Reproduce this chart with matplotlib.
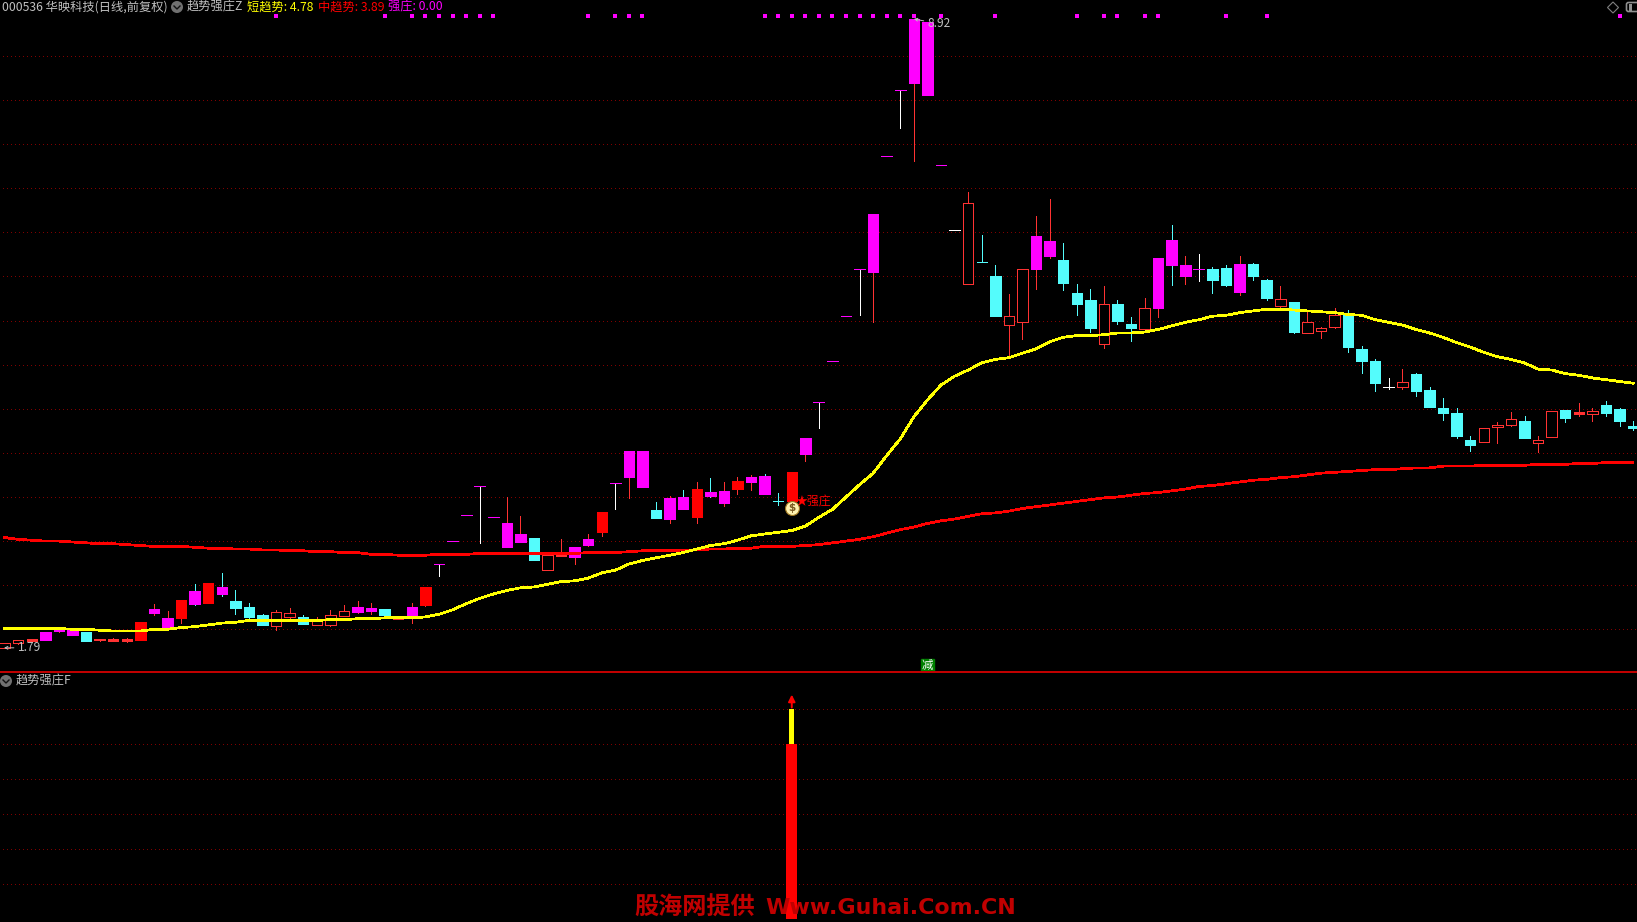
import matplotlib
matplotlib.use('Agg')
import numpy as np
import matplotlib.pyplot as plt
from matplotlib.patches import Circle, Polygon, FancyBboxPatch, Rectangle

plt.rcParams['font.family'] = ['Noto Sans CJK SC', 'DejaVu Sans']

#=================================== data ===================================
opens = [1.79, 1.84, 1.87, 1.88, 1.98, 1.94, 1.97, 1.88, 1.87, 1.87, 1.88, 2.19, 2.03, 2.13, 2.43, 2.30, 2.48, 2.32, 2.25, 2.16,
         2.04, 2.14, 2.14, 2.05, 2.05, 2.15, 2.20, 2.21, 2.23, 2.12, 2.13, 2.28, 2.74, 3.00, 3.30, 3.63, 3.27, 2.93, 2.99, 3.04,
         2.67, 2.83, 2.82, 2.96, 3.10, 3.66, 3.73, 3.61, 3.35, 3.25, 3.50, 3.27, 3.56, 3.43, 3.59, 3.67, 3.74, 3.46, 3.45, 3.99,
         4.58, 5.04, 5.55, 6.09, 6.05, 7.37, 8.11, 8.19, 8.06, 7.26, 6.53, 5.92, 6.17, 6.01, 5.45, 5.48, 6.09, 6.23, 6.19, 5.81,
         5.73, 5.24, 5.69, 5.46, 5.41, 5.64, 6.41, 6.01, 6.08, 6.09, 6.10, 5.82, 6.14, 5.96, 5.67, 5.71, 5.36, 5.38, 5.43, 5.56,
         5.18, 5.04, 4.75, 4.75, 4.89, 4.71, 4.51, 4.45, 4.15, 4.12, 4.29, 4.32, 4.36, 4.11, 4.18, 4.49, 4.44, 4.44, 4.54, 4.50,
         4.30]
highs = [1.84, 1.88, 1.89, 1.97, 2.00, 2.00, 1.97, 1.89, 1.90, 1.90, 2.08, 2.29, 2.21, 2.33, 2.51, 2.53, 2.64, 2.45, 2.30, 2.17,
         2.22, 2.24, 2.16, 2.14, 2.22, 2.28, 2.32, 2.30, 2.23, 2.14, 2.30, 2.48, 2.74, 3.00, 3.30, 3.63, 3.27, 3.50, 3.29, 3.04,
         2.88, 3.02, 2.93, 3.08, 3.33, 3.66, 4.02, 4.02, 3.44, 3.51, 3.58, 3.67, 3.72, 3.67, 3.73, 3.75, 3.76, 3.55, 3.78, 4.17,
         4.58, 5.04, 5.55, 6.09, 6.71, 7.37, 8.11, 8.92, 8.89, 7.26, 6.53, 6.96, 6.47, 6.13, 5.80, 6.09, 6.69, 6.88, 6.38, 5.92,
         5.86, 5.89, 5.73, 5.54, 5.76, 6.21, 6.58, 6.23, 6.26, 6.11, 6.13, 6.23, 6.15, 5.97, 5.89, 5.71, 5.61, 5.43, 5.64, 5.62,
         5.21, 5.06, 4.85, 4.95, 4.91, 4.75, 4.62, 4.51, 4.19, 4.28, 4.35, 4.46, 4.42, 4.19, 4.48, 4.49, 4.57, 4.51, 4.59, 4.51,
         4.36]
lows = [1.79, 1.83, 1.86, 1.88, 1.97, 1.94, 1.87, 1.87, 1.87, 1.86, 1.88, 2.16, 2.03, 2.07, 2.28, 2.30, 2.38, 2.17, 2.13, 2.05,
        1.99, 2.12, 2.06, 2.05, 2.04, 2.15, 2.19, 2.17, 2.13, 2.12, 2.07, 2.26, 2.60, 3.00, 3.30, 2.98, 3.27, 2.93, 2.99, 2.79,
        2.67, 2.83, 2.74, 2.94, 3.06, 3.36, 3.49, 3.61, 3.26, 3.21, 3.36, 3.21, 3.50, 3.40, 3.53, 3.58, 3.53, 3.41, 3.45, 3.91,
        4.28, 5.04, 5.55, 5.56, 5.48, 7.37, 7.68, 7.31, 8.06, 7.26, 6.53, 5.92, 6.16, 5.55, 5.08, 5.29, 5.86, 6.21, 5.85, 5.56,
        5.37, 5.19, 5.46, 5.27, 5.41, 5.54, 5.90, 5.92, 5.95, 5.81, 5.89, 5.79, 5.96, 5.73, 5.64, 5.36, 5.36, 5.30, 5.42, 5.14,
        4.91, 4.70, 4.73, 4.72, 4.65, 4.52, 4.37, 4.17, 4.02, 4.12, 4.11, 4.31, 4.17, 4.01, 4.18, 4.35, 4.42, 4.36, 4.42, 4.30,
        4.26]
closes = [1.84, 1.88, 1.89, 1.97, 2.00, 2.00, 1.87, 1.89, 1.89, 1.89, 2.08, 2.23, 2.13, 2.33, 2.29, 2.53, 2.40, 2.24, 2.14, 2.05,
          2.20, 2.19, 2.06, 2.11, 2.16, 2.21, 2.25, 2.24, 2.16, 2.14, 2.25, 2.48, 2.74, 3.00, 3.30, 3.63, 3.27, 3.21, 3.08, 2.79,
          2.84, 2.84, 2.93, 3.02, 3.33, 3.66, 4.02, 4.02, 3.26, 3.49, 3.36, 3.59, 3.51, 3.57, 3.68, 3.73, 3.53, 3.45, 3.78, 4.17,
          4.58, 5.04, 5.55, 6.09, 6.71, 7.37, 8.11, 8.92, 8.89, 7.26, 6.53, 6.83, 6.16, 5.55, 5.55, 6.09, 6.46, 6.40, 5.93, 5.69,
          5.42, 5.69, 5.50, 5.42, 5.64, 6.21, 6.13, 6.13, 6.08, 5.96, 5.90, 6.14, 6.01, 5.76, 5.74, 5.37, 5.48, 5.42, 5.56, 5.20,
          5.04, 4.79, 4.75, 4.80, 4.70, 4.52, 4.45, 4.19, 4.09, 4.28, 4.32, 4.38, 4.17, 4.15, 4.48, 4.40, 4.46, 4.47, 4.45, 4.36,
          4.28]

short_trend = [2.01, 2.01, 2.01, 2.01, 2.01, 2.00, 2.00, 1.99, 1.98, 1.98, 1.98, 2.00, 2.00, 2.02, 2.03, 2.05, 2.07, 2.08, 2.10, 2.10,
               2.10, 2.10, 2.10, 2.10, 2.11, 2.11, 2.12, 2.12, 2.13, 2.13, 2.13, 2.14, 2.17, 2.22, 2.29, 2.35, 2.40, 2.44, 2.47, 2.48,
               2.51, 2.54, 2.55, 2.58, 2.64, 2.67, 2.74, 2.78, 2.81, 2.84, 2.87, 2.91, 2.95, 2.97, 3.01, 3.06, 3.08, 3.10, 3.12, 3.17,
               3.27, 3.36, 3.50, 3.64, 3.77, 3.97, 4.16, 4.41, 4.60, 4.77, 4.87, 4.94, 5.02, 5.06, 5.08, 5.13, 5.18, 5.26, 5.31, 5.33,
               5.33, 5.34, 5.36, 5.36, 5.37, 5.40, 5.44, 5.48, 5.51, 5.55, 5.56, 5.59, 5.61, 5.63, 5.63, 5.62, 5.61, 5.60, 5.59, 5.57,
               5.56, 5.51, 5.48, 5.45, 5.40, 5.36, 5.31, 5.25, 5.20, 5.14, 5.09, 5.06, 5.02, 4.95, 4.94, 4.90, 4.88, 4.85, 4.83, 4.81,
               4.79]
mid_trend = [3.04, 3.02, 3.01, 3.00, 3.00, 2.99, 2.98, 2.97, 2.97, 2.96, 2.95, 2.94, 2.94, 2.94, 2.93, 2.92, 2.92, 2.91, 2.91, 2.90,
             2.90, 2.89, 2.89, 2.88, 2.88, 2.87, 2.87, 2.85, 2.85, 2.84, 2.84, 2.84, 2.85, 2.85, 2.85, 2.86, 2.86, 2.86, 2.86, 2.86,
             2.86, 2.86, 2.86, 2.87, 2.87, 2.87, 2.88, 2.89, 2.89, 2.89, 2.90, 2.90, 2.91, 2.91, 2.92, 2.92, 2.94, 2.94, 2.94, 2.95,
             2.96, 2.98, 3.00, 3.02, 3.05, 3.09, 3.13, 3.16, 3.20, 3.23, 3.25, 3.28, 3.31, 3.32, 3.34, 3.37, 3.39, 3.41, 3.43, 3.45,
             3.47, 3.49, 3.50, 3.52, 3.54, 3.55, 3.57, 3.59, 3.62, 3.63, 3.65, 3.67, 3.69, 3.70, 3.72, 3.73, 3.75, 3.77, 3.78, 3.79,
             3.80, 3.81, 3.81, 3.82, 3.83, 3.83, 3.85, 3.85, 3.85, 3.86, 3.86, 3.86, 3.86, 3.87, 3.87, 3.87, 3.88, 3.88, 3.89, 3.89,
             3.89]

# candles painted magenta / solid red by the indicator
strong_days = [3, 4, 5, 11, 12, 14, 16, 26, 27, 30, 32, 33, 34, 35, 36, 37, 38, 42, 43, 45, 46, 47, 49, 50, 52, 53, 55, 56, 59,
               60, 61, 62, 63, 64, 65, 66, 67, 68, 69, 76, 77, 85, 86, 87, 88, 91]
red_days = [10, 13, 15, 31, 44, 51, 54, 58]
top_dots = [20, 28, 30, 31, 32, 33, 34, 35, 36, 43, 45, 46, 47, 56, 57, 58, 59, 60, 61, 62, 63, 64, 65, 66, 67, 69, 73, 79, 81,
            82, 84, 85, 90, 93, 119]

signal_day = 58
sell_day = 68
sub_red = 5
sub_yellow = 6

price_grid = np.arange(2.0, 9.0, 0.5)
sub_grid = [1, 2, 3, 4, 5, 6]

#=================================== layout ==================================
W, H = 1637, 922
split = 672
grid_color = '#800000'
text_grey = '#c0c0c0'
up_red = '#ff3232'
cyan = '#54fcfc'
magenta = '#ff00ff'

fig = plt.figure(figsize=(W / 100, H / 100), dpi=100, facecolor='black')
ax = fig.add_axes([0, (H - split) / H, 1, split / H])
sub = fig.add_axes([0, 0, 1, (H - split) / H])
over = fig.add_axes([0, 0, 1, 1])
for a in (ax, sub, over):
    a.set_axis_off()
over.patch.set_alpha(0)
over.set_xlim(0, W)
over.set_ylim(H, 0)

xlim = (-4.7 / 13.57, (W - 4.7) / 13.57)
ax.set_xlim(*xlim)
ax.set_ylim(2 - (split - 629.3) / 88.2, 2 + 629.3 / 88.2)
sub.set_xlim(*xlim)
sub.set_ylim(-2.7 / 35, 6 + (709.3 - split) / 35)

for g in price_grid:
    ax.axhline(g, xmin=3 / W, color=grid_color, lw=0.72, ls=(0, (1, 3)), antialiased=False, zorder=1)
for g in sub_grid:
    sub.axhline(g, xmin=3 / W, color=grid_color, lw=0.72, ls=(0, (1, 3)), antialiased=False, zorder=1)

#=================================== candles =================================
for i in range(len(opens)):
    o, h, l, c = opens[i], highs[i], lows[i], closes[i]
    if c > o:
        wick = up_red
    elif c < o:
        wick = cyan
    else:
        wick = 'white'
    ax.vlines(i, l, h, color=wick, lw=0.72, antialiased=False, zorder=2)

    if c == o:
        dash = magenta if i in strong_days else wick
        ax.hlines(c, i - 0.4, i + 0.4, color=dash, lw=0.72, antialiased=False, zorder=3)
        continue
    if i in strong_days:
        face, edge = magenta, magenta
    elif i in red_days:
        face, edge = '#ff0000', '#ff0000'
    elif c > o:
        # very thin up candles have no room for a hollow middle
        face, edge = ('black', up_red) if c - o > 0.025 else (up_red, up_red)
    else:
        face, edge = cyan, cyan
    ax.bar(i, abs(c - o), bottom=min(o, c), width=0.77, facecolor=face, edgecolor=edge, lw=0.72,
           antialiased=False, zorder=3)

x = np.arange(len(short_trend))
ax.plot(x, mid_trend, color='#ff0000', lw=1.25, antialiased=False, zorder=4)
ax.plot(x, short_trend, color='#ffff00', lw=1.25, antialiased=False, zorder=5)

trans = ax.get_xaxis_transform()
ax.scatter(top_dots, [1 - 16.3 / split] * len(top_dots), marker='s', s=9, color=magenta, linewidths=0,
           transform=trans, zorder=6)

# high / low notes
hi = int(np.argmax(highs))
lo = int(np.argmin(lows))
ax.annotate('%.2f' % max(highs), xy=(hi, max(highs)), xytext=(14, -5), textcoords='offset pixels', color=text_grey,
            fontsize=8.6, va='center', ha='left', zorder=7,
            arrowprops=dict(arrowstyle='->', color=text_grey, lw=0.7, shrinkA=1, shrinkB=0, mutation_scale=5))
ax.annotate('%.2f' % min(lows), xy=(lo - 0.05, min(lows)), xytext=(14, 0), textcoords='offset pixels', color=text_grey,
            fontsize=8.6, va='center', ha='left', zorder=7,
            arrowprops=dict(arrowstyle='->', color=text_grey, lw=0.7, shrinkA=1, shrinkB=0, mutation_scale=5))

# signal day: money bag and label
bag_y = lows[signal_day] - 0.075
ax.scatter([signal_day], [bag_y], s=100, marker='o', color='#fff2b0', edgecolors='#a07820', linewidths=0.8, zorder=7)
ax.annotate('$', xy=(signal_day, bag_y), color='#7a5a20', fontsize=7.5, fontweight='bold', ha='center', va='center',
            family=['DejaVu Sans'], zorder=8)
ax.annotate('★强庄', xy=(signal_day, lows[signal_day]), xytext=(4, -1), textcoords='offset pixels', color='#ff0000',
            fontsize=8.6, va='center', ha='left', zorder=8)

# sell badge
ax.text(sell_day, 2 - (665 - 629.3) / 88.2, '减', color='white', fontsize=8.2, ha='center', va='center', zorder=8,
        bbox=dict(boxstyle='square,pad=0.08', facecolor='#008000', edgecolor='#008000'))

#=================================== sub panel ===============================
sub.bar(signal_day, sub_red, width=0.81, color='#ff0000', antialiased=False, zorder=3)
sub.bar(signal_day, sub_yellow - sub_red, bottom=sub_red, width=0.37, color='#ffff00', antialiased=False, zorder=3)
sub.annotate('', xy=(signal_day, sub_yellow + 0.42), xytext=(signal_day, sub_yellow + 0.05), zorder=4,
             arrowprops=dict(arrowstyle='-|>', color='#ff0000', lw=1.4, shrinkA=0, shrinkB=0, mutation_scale=10))

#=================================== header ==================================
over.axhline(split, color='#c00000', lw=1.4, antialiased=False)
tx = dict(fontsize=8.8, va='center', ha='left')
over.text(2, 7, '000536 华映科技(日线,前复权)', color=text_grey, **tx)
over.text(187, 7, '趋势强庄Z', color=text_grey, **tx)
over.text(247, 7, '短趋势: 4.78', color='#ffff00', **tx)
over.text(318, 7, '中趋势: 3.89', color='#ff0000', **tx)
over.text(388, 7, '强庄: 0.00', color=magenta, **tx)
over.text(16, 681, '趋势强庄F', color=text_grey, **tx)

for cx, cy in [(177, 7), (6, 681)]:
    over.add_patch(Circle((cx, cy), 6, facecolor='#707070', edgecolor='none'))
    over.plot([cx - 3, cx, cx + 3], [cy - 1, cy + 2, cy - 1], color='#101010', lw=1)

# top right icons
over.add_patch(Polygon([(1613, 2), (1618.5, 7.5), (1613, 13), (1607.5, 7.5)], closed=True, fill=False,
                       edgecolor='#808080', lw=0.8))
over.add_patch(FancyBboxPatch((1627, 3), 12, 8, boxstyle='round,pad=0.5,rounding_size=2', fill=False,
                              edgecolor='#909090', lw=1.2))
over.add_patch(Rectangle((1629, 4), 3, 7, facecolor='#909090', edgecolor='none'))

# watermark
over.text(634, 908, '股海网提供', color='#c00000', fontsize=17.4, fontweight='bold', va='center', ha='left', zorder=10)
over.text(765, 908, 'Www.Guhai.Com.CN', color='#c00000', fontsize=15.9, fontweight='bold', va='center', ha='left',
          family=['DejaVu Sans'], zorder=10)

plt.savefig('out.png', dpi=100, facecolor='black')
